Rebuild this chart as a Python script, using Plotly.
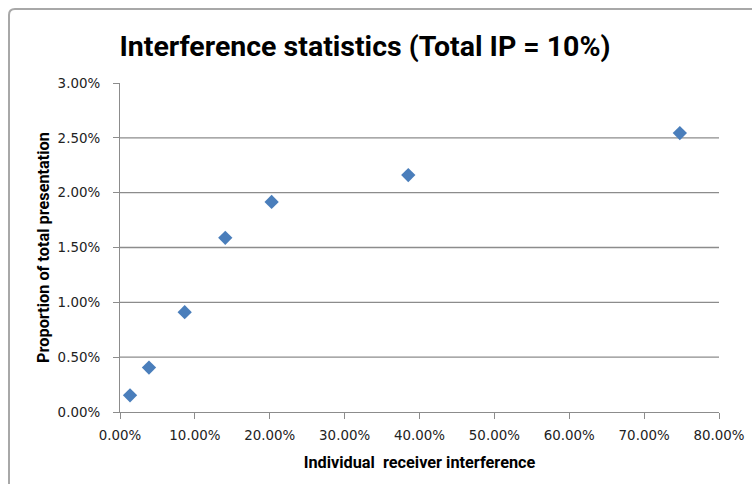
import plotly.graph_objects as go

# Data
receiver_interference = [0.0134, 0.0387, 0.0864, 0.1406, 0.2025, 0.3850, 0.7477]
proportion_total = [0.00152, 0.00405, 0.00910, 0.01588, 0.01916, 0.02160, 0.02543]

x_ticks = [0.0, 0.1, 0.2, 0.3, 0.4, 0.5, 0.6, 0.7, 0.8]
x_labels = ["0.00%", "10.00%", "20.00%", "30.00%", "40.00%", "50.00%", "60.00%", "70.00%", "80.00%"]
y_ticks = [0.0, 0.005, 0.01, 0.015, 0.02, 0.025, 0.03]
y_labels = ["0.00%", "0.50%", "1.00%", "1.50%", "2.00%", "2.50%", "3.00%"]

W, H = 752, 484
L, R, T, B = 120, 33, 83, 72
pw, ph = W - L - R, H - T - B


def px_x(px):
    return (px - L) / pw


def px_y(py):
    return (H - B - py) / ph


fig = go.Figure()
fig.add_trace(go.Scatter(
    x=receiver_interference, y=proportion_total, mode="markers",
    marker=dict(symbol="diamond", size=11, color="#4a7ebb", line=dict(width=0)),
    showlegend=False, cliponaxis=False, hoverinfo="skip",
))

grid_color = "#8c8c8c"
shapes = []
for v in y_ticks[1:-1]:
    shapes.append(dict(type="line", xref="paper", yref="y", x0=0, x1=1, y0=v, y1=v,
                       line=dict(color=grid_color, width=1.3), layer="below"))

# outer chart frame (top-left rounded corner)
x0, y0 = px_x(9), px_y(9)
rx, ry = 6 / pw, 6 / ph
frame = (f"M {x0},{px_y(490)} L {x0},{y0 - ry} Q {x0},{y0} {x0 + rx},{y0} "
         f"L {px_x(760)},{y0}")
shapes.append(dict(type="path", xref="paper", yref="paper", path=frame,
                   line=dict(color="#a8a8a8", width=2)))

title_font = "Roboto, Liberation Sans, sans-serif"
tick_font = dict(family="DejaVu Sans, Verdana, sans-serif", size=13.4, color="#222222")

fig.update_layout(
    width=W, height=H,
    margin=dict(l=L, r=R, t=T, b=B, pad=0, autoexpand=False),
    paper_bgcolor="white", plot_bgcolor="white",
    shapes=shapes,
    title=dict(text="<b>Interference statistics (Total IP = 10%)</b>",
               font=dict(family=title_font, size=28.5, color="#000000"),
               x=365 / W, xanchor="center", xref="container",
               y=1 - 46 / H, yanchor="middle", yref="container"),
    xaxis=dict(range=[0, 0.8], tickvals=x_ticks, ticktext=x_labels, automargin=False,
               showgrid=False, zeroline=False, showline=True, linecolor=grid_color, linewidth=1.3,
               ticks="outside", ticklen=6, tickcolor=grid_color, tickwidth=1.3,
               tickfont=tick_font, ticklabelstandoff=5,
               title=dict(text="<b>Individual  receiver interference</b>",
                          font=dict(family=title_font, size=16.3, color="#000000"), standoff=14)),
    yaxis=dict(range=[0, 0.03], tickvals=y_ticks, ticktext=y_labels, automargin=False,
               showgrid=False, zeroline=False, showline=True, linecolor=grid_color, linewidth=1.3,
               ticks="outside", ticklen=6, tickcolor=grid_color, tickwidth=1.3,
               tickfont=tick_font, ticklabelstandoff=10,
               title=dict(text="<b>Proportion of total presentation</b>",
                          font=dict(family=title_font, size=16.3, color="#000000"), standoff=3)),
)

fig.write_html("out.html", config={"displayModeBar": False},
               post_script="document.body.style.margin='0';")
